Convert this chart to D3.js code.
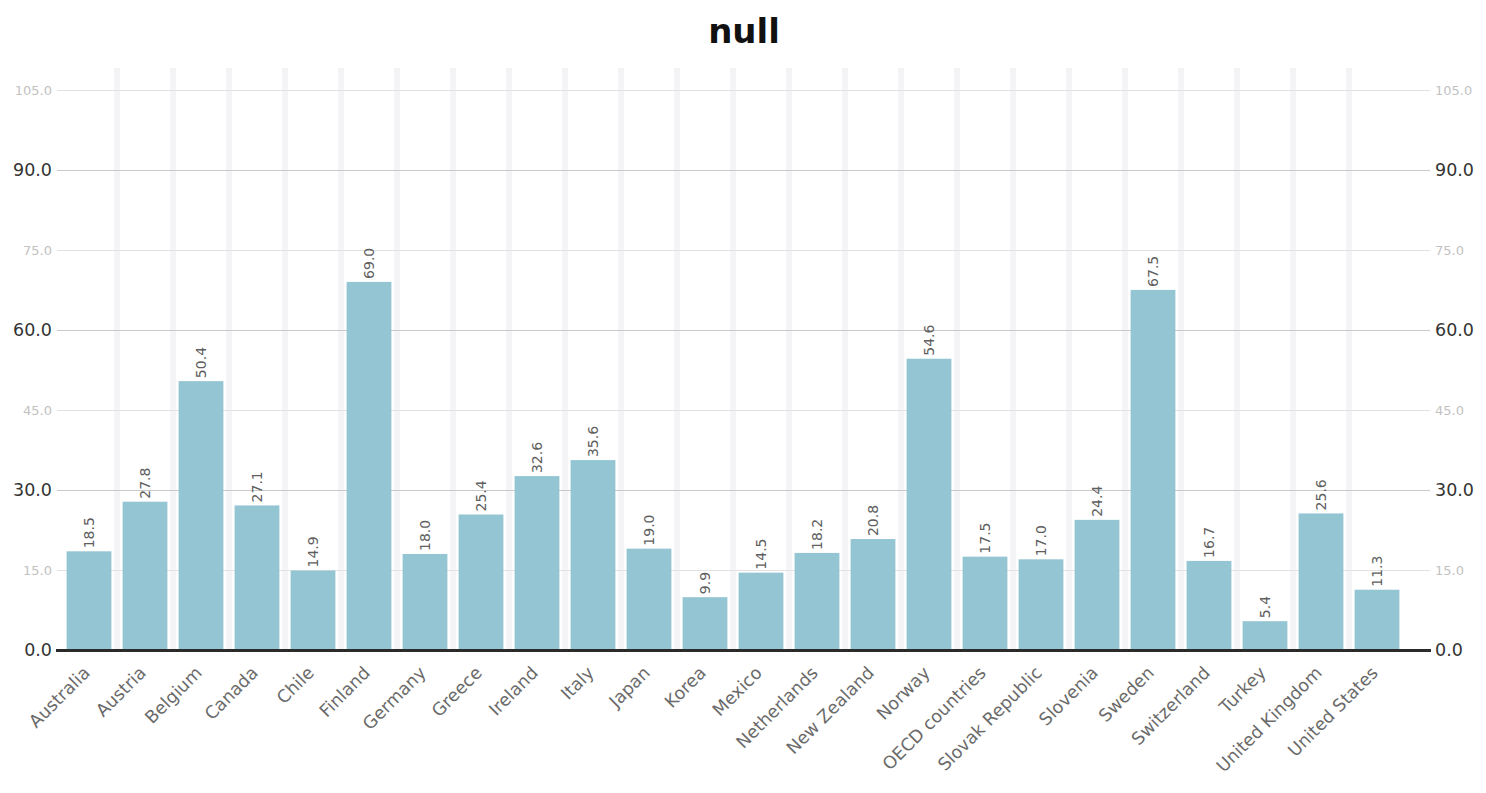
<!DOCTYPE html>
<html>
<head>
<meta charset="utf-8">
<script src="https://cdn.jsdelivr.net/npm/d3@7/dist/d3.min.js"></script>
<style>
  html, body { margin: 0; padding: 0; background: #fff; }
  svg { display: block; font-family: "DejaVu Sans", Verdana, sans-serif; }
</style>
</head>
<body>
<svg id="chart" width="1486" height="793"></svg>
<script>
// Countries and their values
const categories = [
  "Australia", "Austria", "Belgium", "Canada", "Chile", "Finland", "Germany",
  "Greece", "Ireland", "Italy", "Japan", "Korea", "Mexico", "Netherlands",
  "New Zealand", "Norway", "OECD countries", "Slovak Republic", "Slovenia",
  "Sweden", "Switzerland", "Turkey", "United Kingdom", "United States"
];
const values = [
  18.5, 27.8, 50.4, 27.1, 14.9, 69.0, 18.0,
  25.4, 32.6, 35.6, 19.0, 9.9, 14.5, 18.2,
  20.8, 54.6, 17.5, 17.0, 24.4,
  67.5, 16.7, 5.4, 25.6, 11.3
];
const yTicks = [0, 15, 30, 45, 60, 75, 90, 105];
const majorTicks = [0, 30, 60, 90];
const title = "null";

const data = categories.map((c, i) => ({ name: c, value: values[i] }));

const svg = d3.select("#chart");
const plotLeft = 56, plotRight = 1431, plotTop = 68, baseY = 650;

const x = d3.scaleBand()
  .domain(categories)
  .range([61, 1405])
  .paddingInner(0.2)
  .paddingOuter(0.1);

const y = d3.scaleLinear()
  .domain([0, 109.1])
  .range([baseY, plotTop]);

const fmt = d3.format(".1f");
const isMajor = v => majorTicks.includes(v);

// Title
svg.append("text")
  .attr("x", 744)
  .attr("y", 43)
  .attr("text-anchor", "middle")
  .attr("font-size", 34)
  .attr("font-weight", "bold")
  .attr("fill", "#111")
  .text(title);

// Vertical separator bands between categories
const step = x.step();
const gaps = categories.slice(1).map(c => x(c) - step * x.paddingInner() / 2);
svg.append("g")
  .selectAll("rect")
  .data(gaps)
  .join("rect")
  .attr("x", d => d - 3)
  .attr("y", plotTop)
  .attr("width", 6)
  .attr("height", baseY - plotTop)
  .attr("fill", "#f4f4f6");

// Horizontal gridlines
svg.append("g")
  .selectAll("line")
  .data(yTicks.filter(v => v > 0))
  .join("line")
  .attr("x1", plotLeft + 1)
  .attr("x2", plotRight - 1)
  .attr("y1", d => Math.round(y(d)) + 0.5)
  .attr("y2", d => Math.round(y(d)) + 0.5)
  .attr("stroke", d => isMajor(d) ? "#c9c9c9" : "#e2e2e2")
  .attr("stroke-width", 1);

// Baseline
svg.append("rect")
  .attr("x", plotLeft)
  .attr("y", baseY - 1)
  .attr("width", plotRight - plotLeft)
  .attr("height", 3)
  .attr("fill", "#2b2b2b");

// Bars
svg.append("g")
  .selectAll("rect")
  .data(data)
  .join("rect")
  .attr("x", d => x(d.name))
  .attr("y", d => y(d.value))
  .attr("width", x.bandwidth())
  .attr("height", d => y(0) - y(d.value) - 1)
  .attr("fill", "#93c5d3");

// Value labels above bars
svg.append("g")
  .selectAll("text")
  .data(data)
  .join("text")
  .attr("transform", d => `translate(${x(d.name) + x.bandwidth() / 2 + 5},${y(d.value) - 3}) rotate(-90)`)
  .attr("text-anchor", "start")
  .attr("font-size", 14)
  .attr("fill", "#5e5e5e")
  .text(d => fmt(d.value));

// Y axes on both sides
function styleYAxis(g) {
  g.select(".domain").remove();
  g.selectAll(".tick line").remove();
  g.selectAll(".tick text")
    .attr("font-family", "'DejaVu Sans', Verdana, sans-serif")
    .attr("font-size", d => isMajor(d) ? 17.5 : 13)
    .attr("fill", d => isMajor(d) ? "#333" : "#c2c2c2");
}
svg.append("g")
  .attr("transform", `translate(${plotLeft - 1},0)`)
  .call(d3.axisLeft(y).tickValues(yTicks).tickFormat(fmt).tickSize(0).tickPadding(3))
  .call(styleYAxis);
svg.append("g")
  .attr("transform", `translate(${plotRight + 1},0)`)
  .call(d3.axisRight(y).tickValues(yTicks).tickFormat(fmt).tickSize(0).tickPadding(3))
  .call(styleYAxis);

// X axis category labels
const xAxis = svg.append("g")
  .attr("transform", `translate(0,${baseY})`)
  .call(d3.axisBottom(x).tickSize(0));
xAxis.select(".domain").remove();
xAxis.selectAll(".tick text")
  .attr("font-family", "'DejaVu Sans', Verdana, sans-serif")
  .attr("font-size", 17.5)
  .attr("fill", "#6a6a6a")
  .attr("x", 0)
  .attr("y", 0)
  .attr("dy", null)
  .attr("text-anchor", "end")
  .attr("transform", "translate(2,24) rotate(-45)");
</script>
</body>
</html>
